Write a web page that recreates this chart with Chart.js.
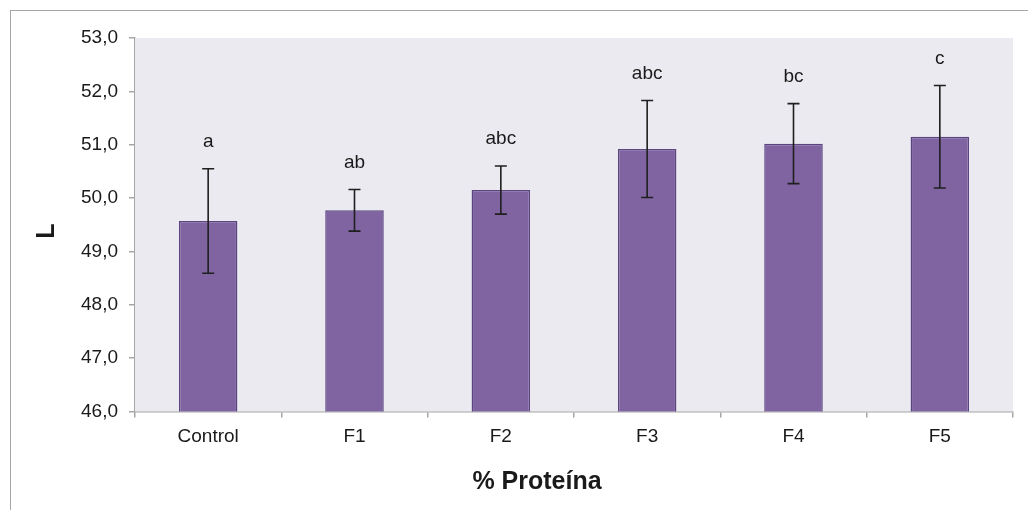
<!DOCTYPE html>
<html>
<head>
<meta charset="utf-8">
<script src="https://cdn.jsdelivr.net/npm/chart.js@4/dist/chart.umd.min.js"></script>
<style>
    html, body { margin: 0; padding: 0; background: #ffffff; overflow: hidden; }
    #wrap { position: relative; width: 1028px; height: 510px; }
    #frame { position: absolute; left: 10px; top: 10px; width: 1100px; height: 600px;
             border: 1.5px solid #a6a6a6; pointer-events: none; }
</style>
</head>
<body>
<div id="wrap">
    <canvas id="l-chart" width="1028" height="510"></canvas>
    <div id="frame"></div>
</div>
<script>
const categories = ['Control', 'F1', 'F2', 'F3', 'F4', 'F5'];
const means = [49.57, 49.77, 50.15, 50.92, 51.02, 51.15];
const errors = [0.98, 0.39, 0.45, 0.91, 0.75, 0.96];
const letters = ['a', 'ab', 'abc', 'abc', 'bc', 'c'];
const xTitle = '% Proteína';
const yTitle = 'L';

const FONT = "'Liberation Sans', Arial, sans-serif";

// light lavender background behind the bars
const plotBackground = {
    id: 'plotBackground',
    beforeDatasetsDraw(chart) {
        const {ctx, chartArea: a} = chart;
        ctx.save();
        ctx.fillStyle = '#ebeaf0';
        ctx.fillRect(a.left, a.top, a.right - a.left, a.bottom - a.top);
        ctx.restore();
    }
};

// standard deviation whiskers and the significance letters above them
const errorBars = {
    id: 'errorBars',
    afterDatasetsDraw(chart) {
        const {ctx} = chart;
        const y = chart.scales.y;
        const meta = chart.getDatasetMeta(0);
        ctx.save();
        ctx.strokeStyle = '#1f1f1f';
        ctx.lineWidth = 1.6;
        meta.data.forEach((bar, i) => {
            const x = bar.x;
            const hi = y.getPixelForValue(means[i] + errors[i]);
            const lo = y.getPixelForValue(means[i] - errors[i]);
            ctx.beginPath();
            ctx.moveTo(x, hi); ctx.lineTo(x, lo);
            ctx.moveTo(x - 6, hi); ctx.lineTo(x + 6, hi);
            ctx.moveTo(x - 6, lo); ctx.lineTo(x + 6, lo);
            ctx.stroke();

            ctx.fillStyle = '#1a1a1a';
            ctx.font = '19px ' + FONT;
            ctx.textAlign = 'center';
            ctx.textBaseline = 'middle';
            ctx.fillText(letters[i], x, hi - 27);
        });
        ctx.restore();
    }
};

// axis titles; the x title sits centred on the whole frame, not the plot
const axisTitles = {
    id: 'axisTitles',
    afterDraw(chart) {
        const {ctx} = chart;
        ctx.save();
        ctx.fillStyle = '#1a1a1a';
        ctx.font = 'bold 25px ' + FONT;
        ctx.textAlign = 'center';
        ctx.textBaseline = 'middle';
        ctx.fillText(xTitle, 537, 482);
        ctx.translate(47, 231);
        ctx.rotate(-Math.PI / 2);
        ctx.fillText(yTitle, 0, 0);
        ctx.restore();
    }
};

new Chart(document.getElementById('l-chart').getContext('2d'), {
    type: 'bar',
    data: {
        labels: categories,
        datasets: [{
            label: yTitle,
            data: means,
            backgroundColor: '#8064a2',
            borderColor: '#5a4580',
            borderWidth: 1.5,
            barPercentage: 0.4,
            categoryPercentage: 1.0
        }]
    },
    options: {
        responsive: false,
        animation: false,
        layout: { padding: { left: 0, top: 38, right: 15, bottom: 0 } },
        plugins: {
            legend: { display: false },
            tooltip: { enabled: false }
        },
        scales: {
            x: {
                afterFit(scale) { scale.height = 98.5; },
                grid: { display: true, drawOnChartArea: false, tickLength: 6, color: '#a6a6a6', lineWidth: 1.5 },
                border: { color: '#a6a6a6', width: 1.5 },
                ticks: { color: '#1a1a1a', padding: 8, font: { family: FONT, size: 19 } }
            },
            y: {
                min: 46,
                max: 53,
                afterFit(scale) { scale.width = 135; },
                grid: { display: true, drawOnChartArea: false, tickLength: 6, color: '#a6a6a6', lineWidth: 1.5 },
                border: { color: '#a6a6a6', width: 1.5 },
                ticks: {
                    stepSize: 1,
                    padding: 11,
                    color: '#1a1a1a',
                    font: { family: FONT, size: 19 },
                    callback: v => v.toFixed(1).replace('.', ',')
                }
            }
        }
    },
    plugins: [plotBackground, errorBars, axisTitles]
});
</script>
</body>
</html>
